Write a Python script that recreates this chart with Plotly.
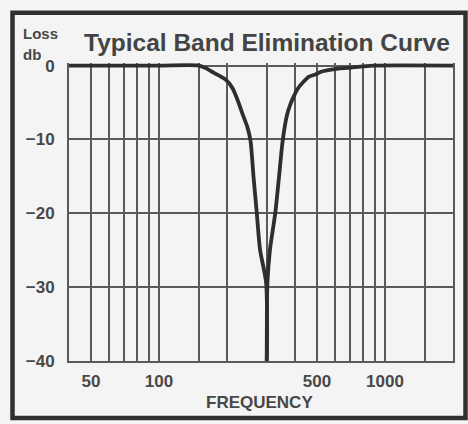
import plotly.graph_objects as go

# Band elimination (notch) response, frequency in Hz, loss in dB
# Lower skirt, down to the notch at 300 Hz
low_freq_hz = [40, 100, 150, 160, 171, 183, 199, 212, 223, 234, 246, 254, 262, 271,
               280, 298, 300]
low_loss_db = [0, 0, 0, -0.3, -0.8, -1.3, -2.0, -3.1, -4.7, -6.5, -8.3, -10.1, -15, -20,
               -24.9, -29.4, -40]
# Upper skirt, from the notch back to the pass band
high_freq_hz = [300, 302, 310, 327, 340, 352, 368, 381, 393, 412, 433, 461, 492, 525, 561,
                620, 688, 800, 900, 2000]
high_loss_db = [-40, -29.4, -24.9, -20, -15, -10.4, -6.8, -5.3, -4.3, -3.1, -2.3, -1.5, -1.2,
                -0.8, -0.6, -0.4, -0.3, -0.1, 0, 0]

# Frequency grid and labelled ticks
grid_freqs = [40, 50, 60, 70, 80, 90, 100, 150, 200, 300, 400, 500,
              600, 700, 800, 900, 1000, 1500, 2000]
labelled = {50: "50", 100: "100", 500: "500", 1000: "1000"}
db_ticks = [0, -10, -20, -30, -40]
db_labels = ["0", "\u221210", "\u221220", "\u221230", "\u221240"]

INK = "#2e2e2e"
GRID = "#5a5a5a"
TEXT = "#484848"
BG = "#f4f4f4"
FONT = "Liberation Sans, Arial, sans-serif"

W, H = 468, 424
L, R, T, B = 69, 15, 62.9, 62.5
pw, ph = W - L - R, H - T - B


def px_x(px):
    return (px - L) / pw


def px_y(py):
    return (H - B - py) / ph


fig = go.Figure()
for xs, ys in ((low_freq_hz, low_loss_db), (high_freq_hz, high_loss_db)):
    fig.add_trace(go.Scatter(
        x=xs, y=ys, mode="lines",
        line=dict(color=INK, width=3.8, shape="spline", smoothing=0.7),
        hoverinfo="skip", showlegend=False,
    ))

fig.update_layout(
    width=W, height=H,
    margin=dict(l=L, r=R, t=T, b=B, pad=0),
    paper_bgcolor=BG, plot_bgcolor=BG,
    font=dict(family=FONT, color=TEXT),
    xaxis=dict(
        type="log", range=[1.60206, 3.30103],
        tickvals=grid_freqs,
        ticktext=[labelled.get(f, "") for f in grid_freqs],
        showgrid=True, gridcolor=GRID, gridwidth=2,
        showline=True, linecolor=GRID, linewidth=2,
        ticks="", ticklabelstandoff=4,
        tickfont=dict(size=17, family=FONT, color=TEXT, weight="bold"),
        zeroline=False, fixedrange=True,
    ),
    yaxis=dict(
        range=[-40, 0.35],
        tickvals=db_ticks, ticktext=db_labels,
        showgrid=True, gridcolor=GRID, gridwidth=2,
        showline=True, mirror=True, linecolor=GRID, linewidth=2,
        ticks="", ticklabelstandoff=9,
        tickfont=dict(size=17, family=FONT, color=TEXT, weight="bold"),
        zeroline=False, fixedrange=True,
    ),
    shapes=[
        dict(type="rect", xref="paper", yref="paper",
             x0=px_x(12.5), x1=px_x(465.5), y0=px_y(418.7), y1=px_y(12.5),
             line=dict(color="#303030", width=4.5), fillcolor="rgba(0,0,0,0)",
             layer="above"),
    ],
    annotations=[
        dict(text="<b>Typical Band Elimination Curve</b>", xref="paper", yref="paper",
             x=px_x(267), y=px_y(42), xanchor="center", yanchor="middle",
             showarrow=False, font=dict(size=24.5, family=FONT, color="#444444")),
        dict(text="<b>Loss</b>", xref="paper", yref="paper",
             x=px_x(21), y=px_y(33.5), xanchor="left", yanchor="middle",
             showarrow=False, font=dict(size=15, family=FONT, color=TEXT)),
        dict(text="<b>db</b>", xref="paper", yref="paper",
             x=px_x(21), y=px_y(54), xanchor="left", yanchor="middle",
             showarrow=False, font=dict(size=15, family=FONT, color=TEXT)),
        dict(text="<b>FREQUENCY</b>", xref="paper", yref="paper",
             x=px_x(259), y=px_y(403), xanchor="center", yanchor="middle",
             showarrow=False, font=dict(size=17, family=FONT, color=TEXT)),
    ],
)

fig.write_html("out.html")
